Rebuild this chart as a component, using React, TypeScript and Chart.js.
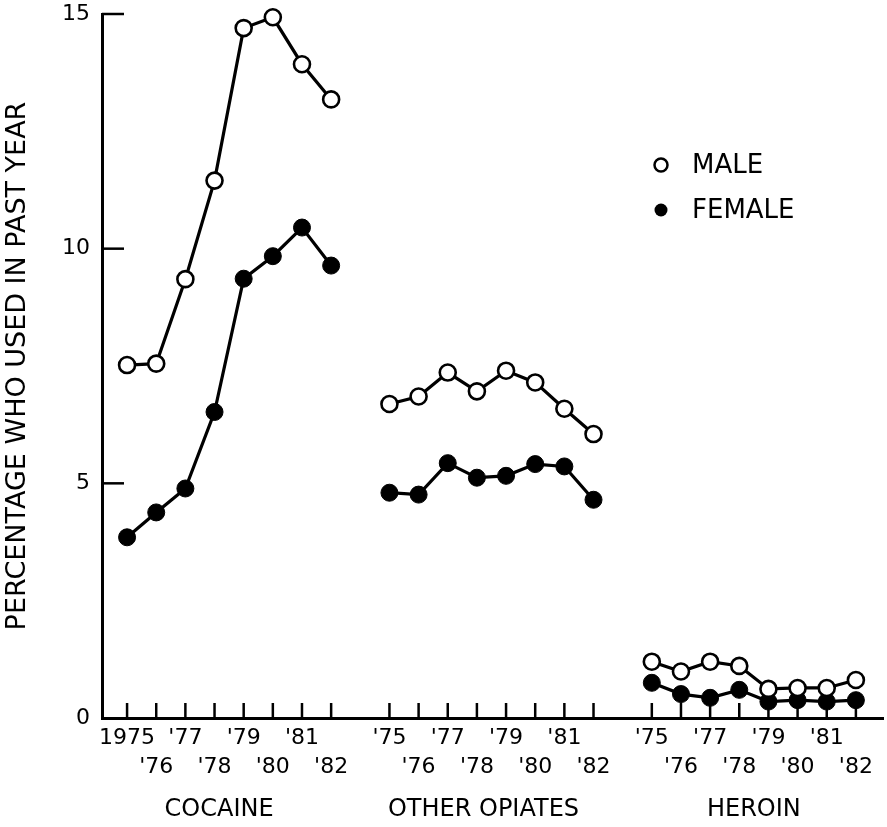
import React, { useEffect, useRef } from 'react';
import { Chart, registerables } from 'chart.js';
Chart.register(...registerables);

const years = ['1975', '1976', '1977', '1978', '1979', '1980', '1981', '1982'];
const groups = ['COCAINE', 'OTHER OPIATES', 'HEROIN'];
const groupStart = [0, 9, 18];

const cocaineMale = [7.52, 7.55, 9.35, 11.45, 14.7, 14.93, 13.93, 13.18];
const cocaineFemale = [3.85, 4.38, 4.89, 6.52, 9.36, 9.84, 10.45, 9.64];
const opiatesMale = [6.69, 6.85, 7.36, 6.96, 7.4, 7.15, 6.59, 6.05];
const opiatesFemale = [4.8, 4.76, 5.43, 5.12, 5.16, 5.41, 5.36, 4.65];
const heroinMale = [1.2, 0.99, 1.2, 1.11, 0.62, 0.64, 0.64, 0.81];
const heroinFemale = [0.75, 0.51, 0.43, 0.6, 0.35, 0.38, 0.35, 0.38];

const yTickValues = [0, 5, 10, 15];
const yTickLabels = ['0', '5', '10', '15'];
const seriesNames = ['MALE', 'FEMALE'];

const FONT = "'DejaVu Sans', 'Liberation Sans', sans-serif";

const maleGroups = [cocaineMale, opiatesMale, heroinMale];
const femaleGroups = [cocaineFemale, opiatesFemale, heroinFemale];

function buildPoints(gs: number[][]) {
  const pts: { x: number; y: number | null }[] = [];
  gs.forEach((vals, g) => {
    vals.forEach((v, i) => pts.push({ x: groupStart[g] + i, y: v }));
    if (g < gs.length - 1) pts.push({ x: groupStart[g] + vals.length, y: null });
  });
  return pts;
}

const xTickValues: number[] = [];
const xTickLabelMap: Record<number, string[]> = {};
groups.forEach((_, g) => {
  years.forEach((yr, i) => {
    const v = groupStart[g] + i;
    xTickValues.push(v);
    const lbl = g === 0 && i === 0 ? yr : "'" + yr.slice(2);
    xTickLabelMap[v] = i % 2 === 0 ? [lbl, ''] : ['', lbl];
  });
});

const decor = {
  id: 'decor',
  beforeDatasetsDraw(chart: any) {
    const { ctx, scales, chartArea } = chart;
    const x = scales.x;
    const y = scales.y;
    ctx.save();
    ctx.strokeStyle = '#000';
    ctx.lineWidth = 2.5;
    xTickValues.forEach((v) => {
      const px = x.getPixelForValue(v);
      ctx.beginPath();
      ctx.moveTo(px, chartArea.bottom);
      ctx.lineTo(px, chartArea.bottom - 15);
      ctx.stroke();
    });
    yTickValues.filter((v) => v > 0).forEach((v) => {
      const py = y.getPixelForValue(v);
      ctx.beginPath();
      ctx.moveTo(chartArea.left, py);
      ctx.lineTo(chartArea.left + 22, py);
      ctx.stroke();
    });
    ctx.restore();
  },
  afterDraw(chart: any) {
    const { ctx, scales, chartArea } = chart;
    const x = scales.x;
    ctx.save();
    ctx.fillStyle = '#000';
    ctx.font = `24px ${FONT}`;
    ctx.textAlign = 'center';
    ctx.textBaseline = 'middle';
    groups.forEach((g, i) => {
      const a = x.getPixelForValue(groupStart[i]);
      const b = x.getPixelForValue(groupStart[i] + years.length - 1);
      const shift = i === 0 ? -10 : i === 1 ? -8 : 0;
      ctx.fillText(g, (a + b) / 2 + shift, chartArea.bottom + 92);
    });
    // legend
    const lx = 661;
    const rows = [165, 210];
    ctx.textAlign = 'left';
    ctx.font = `26px ${FONT}`;
    rows.forEach((ry, i) => {
      ctx.beginPath();
      ctx.arc(lx, ry, 6.5, 0, Math.PI * 2);
      if (i === 0) {
        ctx.fillStyle = '#fff';
        ctx.fill();
        ctx.lineWidth = 2.5;
        ctx.strokeStyle = '#000';
        ctx.stroke();
      } else {
        ctx.fillStyle = '#000';
        ctx.fill();
      }
      ctx.fillStyle = '#000';
      ctx.fillText(seriesNames[i], 692, ry + 1);
    });
    ctx.restore();
  },
};

export default function App() {
  const ref = useRef<HTMLCanvasElement | null>(null);
  useEffect(() => {
    document.body.style.margin = '0';
    if (!ref.current) return;
    const chart = new Chart(ref.current, {
      type: 'line',
      data: {
        datasets: [
          {
            label: seriesNames[0],
            data: buildPoints(maleGroups) as any,
            borderColor: '#000',
            borderWidth: 3.2,
            pointRadius: 8,
            pointBorderWidth: 2.6,
            pointBackgroundColor: '#fff',
            pointBorderColor: '#000',
            spanGaps: false,
            tension: 0,
            clip: false,
          },
          {
            label: seriesNames[1],
            data: buildPoints(femaleGroups) as any,
            borderColor: '#000',
            borderWidth: 3.2,
            pointRadius: 8.5,
            pointBorderWidth: 1,
            pointBackgroundColor: '#000',
            pointBorderColor: '#000',
            spanGaps: false,
            tension: 0,
            clip: false,
          },
        ],
      },
      options: {
        animation: false,
        responsive: true,
        maintainAspectRatio: false,
        layout: { autoPadding: false, padding: { left: 0, right: 4, top: 14, bottom: 0 } },
        plugins: { legend: { display: false }, tooltip: { enabled: false } },
        scales: {
          x: {
            type: 'linear',
            min: -0.86,
            max: 25.93,
            grid: { display: false, drawTicks: false },
            border: { display: true, color: '#000', width: 3 },
            afterBuildTicks: (scale: any) => {
              scale.ticks = xTickValues.map((v) => ({ value: v }));
            },
            afterFit: (scale: any) => {
              scale.height = 109;
              scale.paddingLeft = 0;
              scale.paddingRight = 0;
            },
            ticks: {
              autoSkip: false,
              maxRotation: 0,
              minRotation: 0,
              padding: 6,
              color: '#000',
              font: { family: FONT, size: 22, lineHeight: 1.3 },
              callback: (v: any) => xTickLabelMap[v as number] ?? '',
            },
          },
          y: {
            type: 'linear',
            min: 0,
            max: 15,
            grid: { display: false, drawTicks: false },
            border: { display: true, color: '#000', width: 3 },
            afterBuildTicks: (scale: any) => {
              scale.ticks = yTickValues.map((v) => ({ value: v }));
            },
            afterFit: (scale: any) => {
              scale.width = 102;
              scale.paddingTop = 0;
              scale.paddingBottom = 0;
            },
            ticks: {
              padding: 12,
              color: '#000',
              font: { family: FONT, size: 22 },
              callback: (v: any) => yTickLabels[yTickValues.indexOf(v as number)] ?? '',
            },
            title: {
              display: true,
              text: 'PERCENTAGE WHO USED IN PAST YEAR',
              color: '#000',
              font: { family: FONT, size: 27 },
              padding: { top: 2, bottom: 0 },
            },
          },
        },
      },
      plugins: [decor],
    });
    return () => chart.destroy();
  }, []);
  return (
    <div style={{ width: 887, height: 827, position: 'relative', overflow: 'hidden' }}>
      <canvas ref={ref} />
    </div>
  );
}
